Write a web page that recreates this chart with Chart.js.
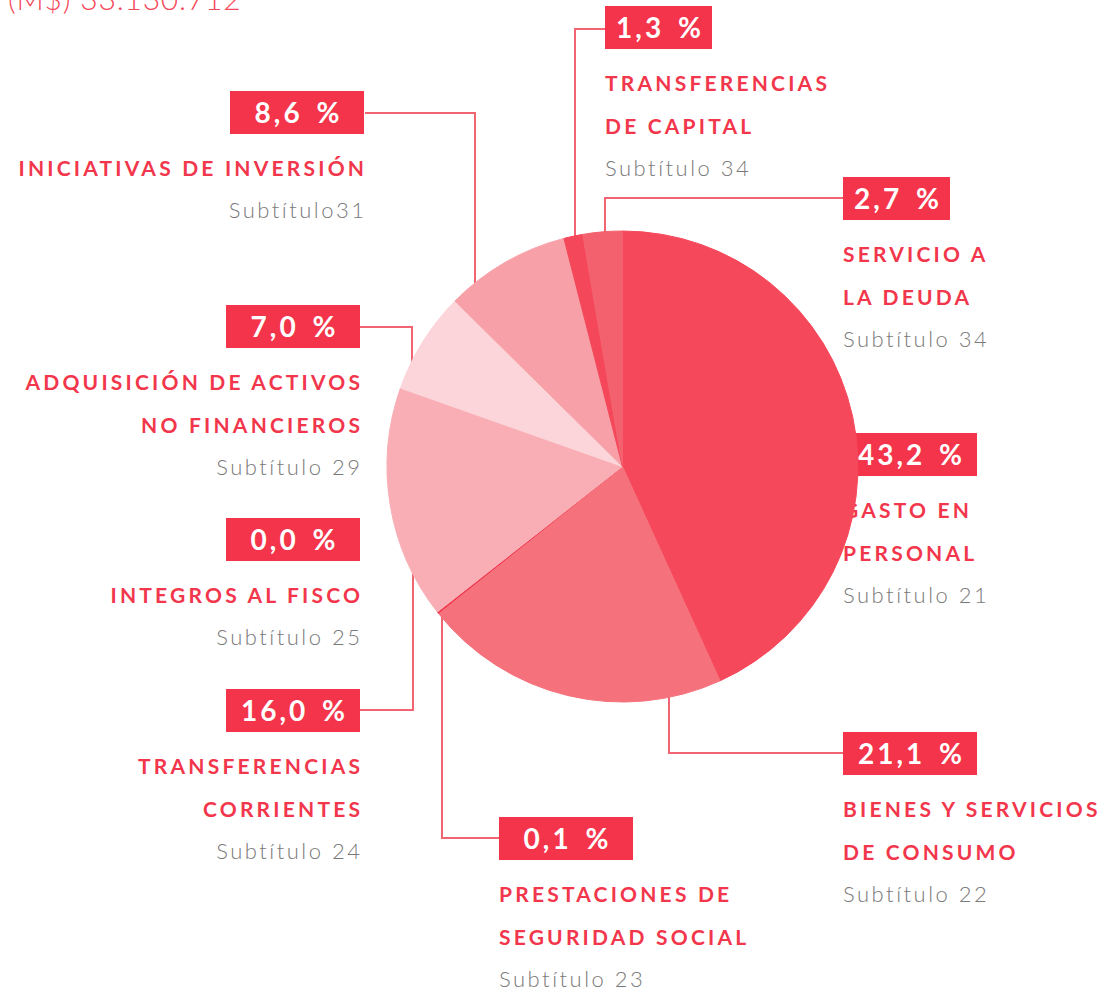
<!DOCTYPE html>
<html>
<head>
<meta charset="utf-8">
<script src="https://cdn.jsdelivr.net/npm/chart.js@4.4.0/dist/chart.umd.min.js"></script>
<style>
  html, body { margin: 0; padding: 0; background: #fff; }
  #stage { position: relative; width: 1111px; height: 998px; overflow: hidden; }
  #labels { position: absolute; left: 0; top: 0; width: 1111px; height: 998px; z-index: 1; }
  #chartWrap { position: absolute; left: 0; top: 0; width: 1111px; height: 998px; z-index: 2; }
  .title { position: absolute; left: 8px; top: -17px; font-family: Lato, sans-serif; font-weight: 300;
           font-size: 30px; line-height: 30px; letter-spacing: 0.8px; color: #F5475A; white-space: nowrap; }
  .box { position: absolute; height: 43px; background: #F4344A; color: #fff; font-family: Lato, sans-serif;
         font-weight: 700; font-size: 28px; line-height: 43px; letter-spacing: 3px; word-spacing: 4px;
         text-align: center; white-space: nowrap; }
  .cap { position: absolute; font-family: Lato, sans-serif; font-weight: 700; font-size: 21px; line-height: 21px;
         letter-spacing: 3.2px; color: #F2364B; white-space: nowrap; }
  .sub { position: absolute; font-family: Lato, sans-serif; font-weight: 300; font-size: 22px; line-height: 22px;
         letter-spacing: 2.5px; color: #7A7A7A; white-space: nowrap; }
</style>
</head>
<body>
<div id="stage">
  <div id="labels"><div class="title">(M$) 33.130.712</div></div>
  <div id="chartWrap"><canvas id="c" width="1111" height="998"></canvas></div>
</div>
<script>
// ---- data ----
const categories = ['Gasto en personal', 'Bienes y servicios de consumo', 'Prestaciones de seguridad social',
  'Transferencias corrientes', 'Integros al fisco', 'Adquisición de activos no financieros',
  'Iniciativas de inversión', 'Transferencias de capital', 'Servicio a la deuda'];
const values = [43.2, 21.1, 0.1, 16.0, 0.0, 7.0, 8.6, 1.3, 2.7];
const captionLines = [['GASTO EN', 'PERSONAL'], ['BIENES Y SERVICIOS', 'DE CONSUMO'], ['PRESTACIONES DE', 'SEGURIDAD SOCIAL'],
  ['TRANSFERENCIAS', 'CORRIENTES'], ['INTEGROS AL FISCO'], ['ADQUISICIÓN DE ACTIVOS', 'NO FINANCIEROS'],
  ['INICIATIVAS DE INVERSIÓN'], ['TRANSFERENCIAS', 'DE CAPITAL'], ['SERVICIO A', 'LA DEUDA']];
const subtitles = ['Subtítulo 21', 'Subtítulo 22', 'Subtítulo 23', 'Subtítulo 24', 'Subtítulo 25',
  'Subtítulo 29', 'Subtítulo31', 'Subtítulo 34', 'Subtítulo 34'];
const sliceColors = ['#F5485B', '#F5717C', '#F0344A', '#F9AEB5', '#F9A5AD', '#FBD5D9', '#F7A0A7', '#F4475A', '#F4616E'];

// ---- layout (positions of annotation blocks) ----
const labelLayout = [
  {x: 843, align: 'left', boxTop: 433, boxW: 134},
  {x: 843, align: 'left', boxTop: 732, boxW: 134},
  {x: 499, align: 'left', boxTop: 817, boxW: 134},
  {x: 360, align: 'right', boxTop: 689, boxW: 134},
  {x: 360, align: 'right', boxTop: 518, boxW: 134},
  {x: 360, align: 'right', boxTop: 305, boxW: 134},
  {x: 364, align: 'right', boxTop: 91, boxW: 134},
  {x: 605, align: 'left', boxTop: 6, boxW: 107},
  {x: 843, align: 'left', boxTop: 177, boxW: 107}
];
const leaderLayout = [
  null,
  {x: 669, y: 753, toX: 843, side: 'bottom'},
  {x: 442, y: 838, toX: 499, side: 'bottom'},
  {x: 413, y: 710, toX: 360, side: 'bottom'},
  null,
  {x: 412, y: 327, toX: 360, side: 'top'},
  {x: 475, y: 113, toX: 365, side: 'top'},
  {x: 575, y: 29, toX: 605, side: 'top'},
  {x: 605, y: 198, toX: 843, side: 'top'}
];

const fmt = v => v.toFixed(1).replace('.', ',') + ' %';

// ---- html labels ----
const host = document.getElementById('labels');
function place(el, L, extraRight) {
  if (L.align === 'left') el.style.left = L.x + 'px';
  else el.style.right = (1111 - L.x - extraRight) + 'px';
}
labelLayout.forEach((L, i) => {
  const box = document.createElement('div');
  box.className = 'box';
  box.textContent = fmt(values[i]);
  box.style.top = L.boxTop + 'px';
  box.style.width = L.boxW + 'px';
  box.style.left = (L.align === 'left' ? L.x : L.x - L.boxW) + 'px';
  box.style.textIndent = '3px';
  host.appendChild(box);
  let capTop = L.boxTop + 70;
  captionLines[i].forEach((t, k) => {
    const d = document.createElement('div');
    d.className = 'cap';
    d.textContent = t;
    d.style.top = (capTop + 43 * k - 3.6) + 'px';
    place(d, L, 3.2);
    host.appendChild(d);
  });
  const lastCap = capTop + 43 * (captionLines[i].length - 1);
  const s = document.createElement('div');
  s.className = 'sub';
  s.textContent = subtitles[i];
  s.style.top = (lastCap + 57 - 19.5) + 'px';
  place(s, L, 2.5);
  host.appendChild(s);
});

// ---- leader lines plugin (drawn under the pie) ----
const leaderPlugin = {
  id: 'leaders',
  beforeDatasetsDraw(chart) {
    const arc = chart.getDatasetMeta(0).data[0];
    const {x: cx, y: cy, outerRadius: r} = arc.getProps(['x', 'y', 'outerRadius'], true);
    const ctx = chart.ctx;
    ctx.save();
    ctx.strokeStyle = '#F36473';
    ctx.lineWidth = 2;
    leaderLayout.forEach(l => {
      if (!l) return;
      const dx = l.x - cx;
      const h = Math.sqrt(Math.max(r * r - dx * dx, 0));
      const yEdge = l.side === 'top' ? cy - h + 6 : cy + h - 6;
      ctx.beginPath();
      ctx.moveTo(l.x, yEdge);
      ctx.lineTo(l.x, l.y);
      ctx.lineTo(l.toX, l.y);
      ctx.stroke();
    });
    ctx.restore();
  }
};

new Chart(document.getElementById('c'), {
  type: 'pie',
  data: {
    labels: categories,
    datasets: [{
      data: values,
      backgroundColor: sliceColors,
      borderColor: sliceColors,
      borderWidth: 1
    }]
  },
  options: {
    responsive: false,
    animation: false,
    layout: { padding: { left: 386.5, right: 252.5, top: 230.5, bottom: 295.5 } },
    plugins: { legend: { display: false }, tooltip: { enabled: false } }
  },
  plugins: [leaderPlugin]
});
</script>
</body>
</html>
